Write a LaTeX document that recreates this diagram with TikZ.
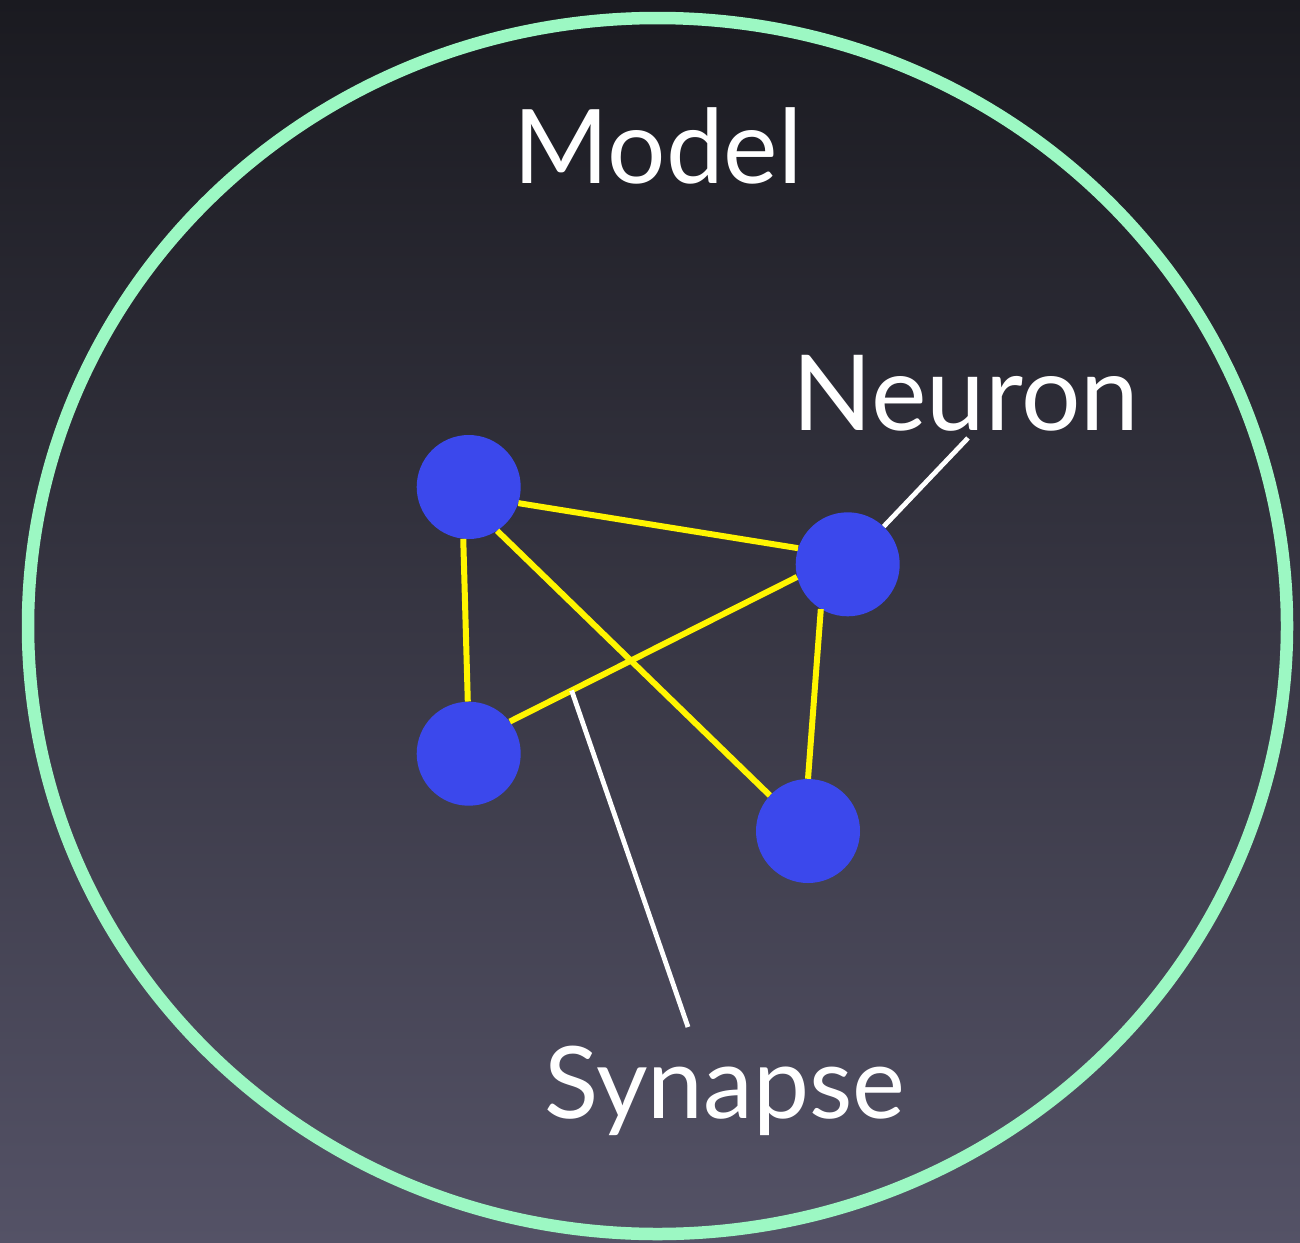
\documentclass[tikz,border=0pt]{standalone}
\usepackage{fontspec}
\setmainfont{Lato}
\usetikzlibrary{calc}
\definecolor{bgtop}{HTML}{1A1A20}
\definecolor{bgbot}{HTML}{545266}
\definecolor{ring}{HTML}{9CF8C3}
\definecolor{nblue}{HTML}{3B48EC}
\definecolor{syel}{HTML}{FFF500}
\begin{document}
\begin{tikzpicture}[x=1pt,y=-1pt,
  neuron/.style={circle,fill=nblue,minimum size=104pt,inner sep=0pt},
  synapse/.style={draw=syel,line width=6pt},
  pointer/.style={draw=white,line width=4.8pt},
  lbl/.style={text=white,font=\fontsize{103}{120}\selectfont,anchor=base,inner sep=0pt},
  ringstyle/.style={draw=ring,line width=12.5pt}]
\shade[top color=bgtop,bottom color=bgbot] (0,0) rectangle (1300,1242);
\useasboundingbox (0,0) rectangle (1300,1242);
\draw[ringstyle] (657.5,626) ellipse [x radius=629.5, y radius=608];
\node[lbl] (model) at (658,183) {Model};
\node[lbl,font=\fontsize{105}{120}\selectfont] (neuronlbl) at (966,430) {Neuron};
\node[lbl,font=\fontsize{100}{120}\selectfont] (synlbl) at (725,1118) {Synapse};
\node[neuron] (A) at (468.7,487) {};
\node[neuron] (B) at (847.7,564.3) {};
\node[neuron] (C) at (468.7,753.7) {};
\node[neuron] (D) at (808,831) {};
\draw[synapse] (A.-18.2) -- (B.162.8);
\draw[synapse] (A.264.2) -- (C.91.5);
\draw[synapse] (A.-57.9) -- (D.137.3);
\draw[synapse] (C.38.6) -- (B.194.9);
\draw[synapse] (B.239.4) -- (D.90.8);
\coordinate (nstart) at (968,438);
\coordinate (sstart) at (688,1027);
\coordinate (sonedge) at ($(C.38.6)!0.215!(B.194.9)$);
\draw[pointer] (nstart) -- (B);
\draw[pointer] (sstart) -- (sonedge);
\end{tikzpicture}
\end{document}
